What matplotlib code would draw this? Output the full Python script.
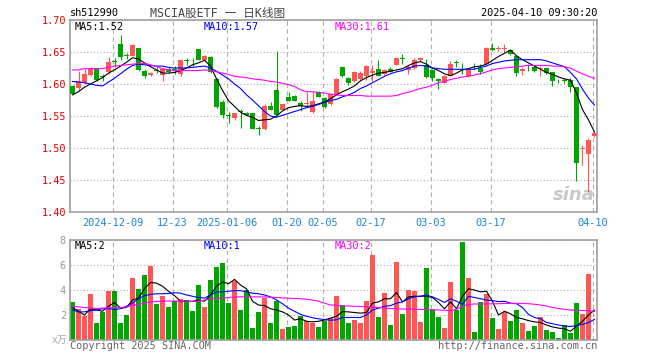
import matplotlib
matplotlib.use("Agg")
import matplotlib.pyplot as plt
import numpy as np

# fonts: mono for latin, CJK fallback for the title / unit
plt.rcParams["font.family"] = ["DejaVu Sans Mono", "Noto Sans CJK SC"]

# ---- data (88 trading days, 2024-11-28 .. 2025-04-10) ----
opens = [1.597, 1.593, 1.602, 1.614, 1.623, 1.6115, 1.618, 1.6345, 1.662, 1.6445,
         1.644, 1.656, 1.621, 1.614, 1.6215, 1.614, 1.624, 1.6225, 1.615, 1.6365,
         1.6375, 1.654, 1.637, 1.642, 1.608, 1.572, 1.5505, 1.547, 1.5575, 1.555,
         1.554, 1.5305, 1.529, 1.565, 1.590, 1.560, 1.580, 1.582, 1.571, 1.568,
         1.556, 1.588, 1.578, 1.568, 1.584, 1.627, 1.610, 1.604, 1.608, 1.612,
         1.617, 1.624, 1.615, 1.624, 1.630, 1.6395, 1.622, 1.625, 1.637, 1.629,
         1.622, 1.608, 1.602, 1.613, 1.6335, 1.628, 1.612, 1.6295, 1.625, 1.631,
         1.656, 1.6545, 1.6545, 1.653, 1.644, 1.620, 1.6295, 1.627, 1.624, 1.625,
         1.618, 1.6045, 1.6055, 1.607, 1.595, 1.499, 1.490, 1.518]
highs = [1.598, 1.620, 1.624, 1.627, 1.624, 1.616, 1.642, 1.641, 1.676, 1.648,
         1.662, 1.657, 1.623, 1.618, 1.626, 1.625, 1.626, 1.628, 1.638, 1.641,
         1.641, 1.655, 1.645, 1.643, 1.610, 1.575, 1.556, 1.555, 1.561, 1.556,
         1.555, 1.534, 1.569, 1.572, 1.652, 1.569, 1.587, 1.583, 1.574, 1.587,
         1.587, 1.589, 1.579, 1.585, 1.609, 1.628, 1.611, 1.620, 1.621, 1.630,
         1.629, 1.638, 1.623, 1.626, 1.641, 1.647, 1.630, 1.640, 1.642, 1.639,
         1.623, 1.609, 1.614, 1.636, 1.638, 1.633, 1.625, 1.633, 1.631, 1.658,
         1.664, 1.659, 1.662, 1.655, 1.645, 1.626, 1.632, 1.629, 1.628, 1.627,
         1.619, 1.608, 1.609, 1.610, 1.596, 1.504, 1.516, 1.525]
lows = [1.584, 1.589, 1.600, 1.613, 1.605, 1.605, 1.615, 1.626, 1.637, 1.639,
        1.643, 1.620, 1.609, 1.613, 1.617, 1.605, 1.617, 1.615, 1.613, 1.629,
        1.628, 1.637, 1.636, 1.617, 1.563, 1.547, 1.539, 1.543, 1.532, 1.551,
        1.529, 1.521, 1.528, 1.559, 1.551, 1.559, 1.573, 1.573, 1.558, 1.567,
        1.555, 1.579, 1.563, 1.567, 1.583, 1.611, 1.599, 1.603, 1.607, 1.607,
        1.604, 1.612, 1.614, 1.618, 1.629, 1.631, 1.615, 1.623, 1.636, 1.610,
        1.604, 1.592, 1.601, 1.612, 1.626, 1.615, 1.611, 1.623, 1.615, 1.630,
        1.652, 1.652, 1.650, 1.646, 1.613, 1.614, 1.620, 1.619, 1.612, 1.616,
        1.597, 1.601, 1.601, 1.588, 1.449, 1.473, 1.432, 1.517]
closes = [1.585, 1.604, 1.615, 1.623, 1.607, 1.611, 1.634, 1.634, 1.642, 1.644,
          1.661, 1.622, 1.612, 1.617, 1.621, 1.624, 1.618, 1.622, 1.637, 1.636,
          1.637, 1.638, 1.644, 1.618, 1.564, 1.551, 1.550, 1.554, 1.557, 1.552,
          1.530, 1.530, 1.566, 1.560, 1.552, 1.568, 1.574, 1.574, 1.566, 1.571,
          1.574, 1.580, 1.564, 1.584, 1.608, 1.612, 1.602, 1.619, 1.617, 1.628,
          1.620, 1.613, 1.622, 1.619, 1.640, 1.639, 1.627, 1.638, 1.640, 1.611,
          1.609, 1.604, 1.613, 1.631, 1.633, 1.6275, 1.623, 1.629, 1.619, 1.657,
          1.653, 1.655, 1.655, 1.647, 1.617, 1.624, 1.629, 1.621, 1.625, 1.617,
          1.605, 1.604, 1.605, 1.595, 1.476, 1.4995, 1.512, 1.524]

ma5 = [1.583, 1.588, 1.595, 1.600, 1.605, 1.610, 1.617, 1.622, 1.628, 1.634,
       1.641, 1.639, 1.633, 1.627, 1.622, 1.617, 1.617, 1.618, 1.621, 1.625,
       1.630, 1.633, 1.637, 1.628, 1.608, 1.590, 1.574, 1.565, 1.556, 1.551,
       1.548, 1.543, 1.544, 1.545, 1.550, 1.558, 1.563, 1.565, 1.566, 1.565,
       1.566, 1.569, 1.572, 1.577, 1.583, 1.588, 1.592, 1.597, 1.605, 1.610,
       1.614, 1.617, 1.618, 1.620, 1.622, 1.624, 1.629, 1.633, 1.635, 1.631,
       1.625, 1.621, 1.616, 1.613, 1.617, 1.622, 1.624, 1.627, 1.628, 1.631,
       1.637, 1.643, 1.648, 1.653, 1.644, 1.638, 1.633, 1.628, 1.623, 1.618,
       1.615, 1.611, 1.608, 1.606, 1.586, 1.560, 1.544, 1.525]
ma10 = [1.604, 1.603, 1.602, 1.600, 1.598, 1.597, 1.603, 1.609, 1.616, 1.623,
        1.629, 1.631, 1.630, 1.629, 1.628, 1.628, 1.626, 1.625, 1.625, 1.625,
        1.626, 1.627, 1.628, 1.625, 1.620, 1.614, 1.608, 1.600, 1.593, 1.583,
        1.575, 1.566, 1.557, 1.550, 1.548, 1.551, 1.554, 1.557, 1.560, 1.563,
        1.565, 1.568, 1.571, 1.574, 1.576, 1.580, 1.583, 1.587, 1.593, 1.597,
        1.602, 1.607, 1.612, 1.616, 1.619, 1.621, 1.625, 1.628, 1.629, 1.628,
        1.625, 1.624, 1.623, 1.623, 1.623, 1.623, 1.623, 1.623, 1.626, 1.628,
        1.632, 1.634, 1.636, 1.637, 1.638, 1.638, 1.638, 1.638, 1.638, 1.636,
        1.633, 1.630, 1.627, 1.618, 1.608, 1.592, 1.578, 1.567]
ma30 = [1.622, 1.622, 1.624, 1.624, 1.624, 1.624, 1.626, 1.628, 1.629, 1.630,
        1.631, 1.632, 1.632, 1.630, 1.627, 1.624, 1.622, 1.621, 1.621, 1.621,
        1.621, 1.621, 1.622, 1.621, 1.619, 1.617, 1.615, 1.612, 1.611, 1.610,
        1.608, 1.607, 1.606, 1.604, 1.603, 1.601, 1.599, 1.596, 1.591, 1.588,
        1.588, 1.587, 1.586, 1.584, 1.583, 1.582, 1.582, 1.582, 1.582, 1.581,
        1.581, 1.581, 1.581, 1.581, 1.582, 1.585, 1.587, 1.590, 1.593, 1.595,
        1.598, 1.602, 1.604, 1.607, 1.609, 1.611, 1.612, 1.614, 1.616, 1.619,
        1.622, 1.624, 1.625, 1.626, 1.627, 1.628, 1.629, 1.629, 1.629, 1.629,
        1.628, 1.628, 1.627, 1.625, 1.620, 1.616, 1.612, 1.609]

volume = [3.07, 2.45, 1.95, 3.68, 1.39, 2.24, 3.92, 3.92, 1.39, 2.00,
          4.96, 4.08, 5.20, 5.95, 2.88, 3.52, 2.64, 3.09, 3.28, 3.20,
          2.32, 4.40, 2.64, 4.80, 5.84, 6.16, 2.96, 4.75, 2.40, 3.97,
          0.96, 2.24, 3.39, 1.36, 3.15, 0.88, 1.04, 1.12, 1.95, 1.55,
          1.39, 1.04, 1.52, 1.75, 3.52, 2.77, 1.39, 1.60, 1.39, 3.15,
          6.80, 1.87, 3.79, 1.20, 6.24, 2.08, 4.00, 3.92, 1.44, 5.76,
          2.48, 1.84, 0.96, 4.64, 2.40, 7.84, 4.96, 0.64, 3.04, 3.68,
          1.76, 0.88, 2.24, 1.55, 2.40, 1.36, 0.72, 1.12, 1.81, 0.80,
          0.64, 0.16, 1.20, 0.56, 2.96, 2.08, 5.28, 0.08]
vol_ma5 = [2.6, 2.3, 2.0, 2.5, 2.4, 2.3, 2.7, 3.0, 2.55, 2.6,
           3.2, 3.35, 4.1, 4.6, 4.55, 4.3, 3.9, 3.55, 3.1, 3.1,
           3.1, 3.2, 3.1, 3.6, 4.3, 4.65, 4.5, 4.85, 4.4, 4.1,
           3.1, 2.8, 2.75, 2.5, 2.4, 2.25, 2.0, 1.6, 1.7, 1.5,
           1.45, 1.5, 1.6, 1.75, 1.9, 2.27, 2.25, 2.2, 2.15, 2.2,
           2.95, 3.05, 3.3, 3.3, 3.8, 3.05, 3.45, 3.5, 3.5, 3.5,
           3.4, 3.0, 2.5, 3.05, 2.5, 3.5, 4.1, 4.0, 3.85, 3.9,
           3.1, 2.0, 2.3, 2.1, 1.8, 1.7, 1.55, 1.45, 1.4, 1.2,
           1.05, 0.95, 0.9, 0.7, 1.1, 1.5, 2.0, 2.4]
vol_ma10 = [2.4, 2.25, 2.25, 2.35, 2.4, 2.5, 2.5, 2.45, 2.5, 2.7,
            2.95, 3.3, 3.55, 3.65, 3.7, 3.7, 3.72, 3.78, 3.75, 3.6,
            3.5, 3.4, 3.35, 3.6, 3.85, 3.85, 3.9, 3.95, 3.95, 3.85,
            3.75, 3.7, 3.6, 3.45, 3.2, 2.9, 2.55, 2.3, 2.05, 1.9,
            1.78, 1.7, 1.63, 1.58, 1.62, 1.8, 1.8, 1.8, 1.8, 2.0,
            2.4, 2.55, 2.7, 2.75, 2.95, 3.05, 3.3, 3.45, 3.5, 3.6,
            3.45, 3.25, 3.0, 3.3, 3.1, 2.85, 3.5, 3.4, 3.3, 3.2,
            3.15, 3.07, 3.1, 2.95, 2.9, 2.6, 2.05, 1.8, 1.7, 1.4,
            1.3, 1.2, 1.12, 1.08, 1.15, 1.25, 1.4, 1.65]
vol_ma30 = [2.7, 2.65, 2.6, 2.55, 2.53, 2.55, 2.58, 2.58, 2.58, 2.65,
            2.75, 2.85, 2.95, 3.05, 3.08, 3.1, 3.12, 3.12, 3.12, 3.1,
            3.08, 3.1, 3.2, 3.28, 3.33, 3.35, 3.4, 3.45, 3.45, 3.45,
            3.45, 3.45, 3.45, 3.42, 3.4, 3.37, 3.34, 3.32, 3.3, 3.25,
            3.2, 3.1, 2.95, 2.8, 2.78, 2.72, 2.72, 2.7, 2.68, 2.66,
            2.62, 2.6, 2.55, 2.52, 2.5, 2.48, 2.47, 2.46, 2.45, 2.43,
            2.42, 2.4, 2.38, 2.35, 2.45, 2.7, 2.85, 2.88, 2.88, 2.88,
            2.9, 2.9, 2.92, 2.93, 2.93, 2.93, 2.9, 2.86, 2.8, 2.72,
            2.6, 2.52, 2.45, 2.4, 2.37, 2.36, 2.35, 2.28]

# date labels: index of the trading day and the text shown
date_idx = [7, 17, 26, 36, 42, 50, 60, 70, 87]
date_labels = ["2024-12-09", "12-23", "2025-01-06", "01-20", "02-05",
               "02-17", "03-03", "03-17", "04-10"]
price_ticks = [1.40, 1.45, 1.50, 1.55, 1.60, 1.65, 1.70]
vol_ticks = [2, 4, 6, 8]

# ---- styles ----
RED = "#ff5555"
GREEN = "#00a600"
GRID = "#b0b0b0"
FRAME = "#a0a0a0"
W, H = 660, 360

o = np.array(opens)
c = np.array(closes)
hi = np.array(highs)
lo = np.array(lows)
x = np.arange(len(c))
up = c > o
colors = np.where(up, RED, GREEN)

fig = plt.figure(figsize=(W / 100, H / 100), dpi=100)
ax = fig.add_axes([70 / W, 1 - 212 / H, 527 / W, 192 / H])
axv = fig.add_axes([70 / W, 1 - 340 / H, 527 / W, 100 / H])

grid_x = np.array(date_idx) - 0.33
for a in (ax, axv):
    a.set_xlim(-0.42, len(c) - 0.58)
    for s in a.spines.values():
        s.set_color(FRAME)
        s.set_linewidth(1.2)
    a.set_xticks(grid_x)
    a.grid(axis="x", color=GRID, linestyle=(0, (4, 3)), linewidth=0.8)
    a.grid(axis="y", color=GRID, linestyle=(0, (1, 2)), linewidth=0.8)
    a.set_axisbelow(True)
    a.tick_params(length=0)

# ---- price panel ----
ax.vlines(x, lo, hi, colors=colors, linewidth=0.8, zorder=2)
body = np.maximum(np.abs(c - o), 0.0012)
ax.bar(x, body, bottom=np.minimum(o, c), width=0.8, color=colors,
       linewidth=0, zorder=3)
ax.plot(x, ma5, color="black", linewidth=0.8, zorder=4)
ax.plot(x, ma10, color="#0000ff", linewidth=0.8, zorder=4)
ax.plot(x, ma30, color="#ff00ff", linewidth=0.8, zorder=4)

ax.set_ylim(1.40, 1.70)
ax.set_yticks(price_ticks)
ax.set_yticklabels([f"{t:.2f}" for t in price_ticks], color="#ee0000", fontsize=7.4)
ax.set_xticklabels(date_labels, color="#1a86d6", fontsize=7.4)
ax.tick_params(axis="x", pad=4)
ax.tick_params(axis="y", pad=3)

ax.text(0.008, 0.963, "MA5:1.52", transform=ax.transAxes, color="black",
        fontsize=7.4, va="center")
ax.text(0.254, 0.963, "MA10:1.57", transform=ax.transAxes, color="#0000ff",
        fontsize=7.4, va="center")
ax.text(0.503, 0.963, "MA30:1.61", transform=ax.transAxes, color="#ff00ff",
        fontsize=7.4, va="center")

# sina watermark
ax.text(0.995, 0.04, "sina", transform=ax.transAxes, ha="right", va="bottom",
        color="#c8c8c8", fontsize=13, fontweight="bold", style="italic",
        family="DejaVu Sans", zorder=1)

# ---- volume panel ----
axv.bar(x, volume, width=0.8, color=colors, linewidth=0, zorder=2)
axv.plot(x, vol_ma5, color="black", linewidth=0.8, zorder=3)
axv.plot(x, vol_ma10, color="#0000ff", linewidth=0.8, zorder=3)
axv.plot(x, vol_ma30, color="#ff00ff", linewidth=0.8, zorder=3)
axv.set_ylim(0, 8)
axv.set_yticks(vol_ticks)
axv.set_yticklabels([str(t) for t in vol_ticks], color="#999999", fontsize=7.4)
axv.tick_params(axis="y", pad=3)
axv.set_xticklabels([])
axv.text(-0.006, 0.0, "x万", transform=axv.transAxes, ha="right", va="center",
         color="#aaaaaa", fontsize=7)

axv.text(0.008, 0.94, "MA5:2", transform=axv.transAxes, color="black",
         fontsize=7.4, va="center")
axv.text(0.254, 0.94, "MA10:1", transform=axv.transAxes, color="#0000ff",
         fontsize=7.4, va="center")
axv.text(0.503, 0.94, "MA30:2", transform=axv.transAxes, color="#ff00ff",
         fontsize=7.4, va="center")

# ---- header / footer ----
fig.text(70 / W, 1 - 13 / H, "sh512990", fontsize=7.4, va="center")
fig.text(150 / W, 1 - 13 / H, "MSCIA股ETF 一 日K线图", fontsize=8.4,
         va="center", color="#444444")
fig.text(597 / W, 1 - 13 / H, "2025-04-10 09:30:20", fontsize=7.4,
         va="center", ha="right")
fig.text(70 / W, 1 - 346 / H, "Copyright 2025 SINA.COM", fontsize=7.4,
         va="center", color="#666666")
fig.text(597 / W, 1 - 346 / H, "http://finance.sina.com.cn", fontsize=7.4,
         va="center", ha="right", color="#666666")

plt.savefig("out.png", dpi=100)
